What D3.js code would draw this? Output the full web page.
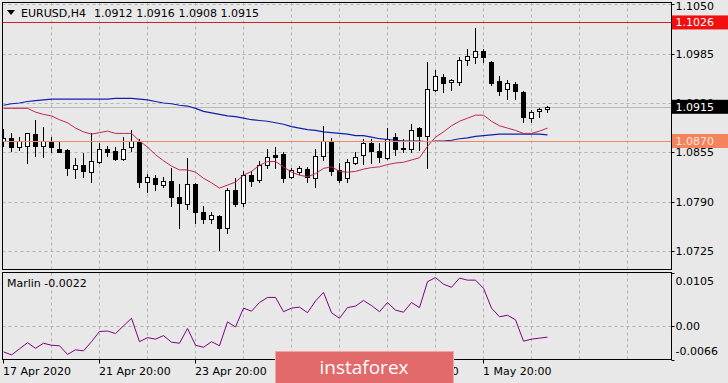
<!DOCTYPE html>
<html><head><meta charset="utf-8">
<script src="https://cdn.jsdelivr.net/npm/d3@7"></script>
<style>
html,body{margin:0;padding:0;background:#e8e8e8;}
svg{display:block;}
text{font-family:"DejaVu Sans",Verdana,sans-serif;font-size:11px;fill:#000;}
</style></head><body>
<svg id="c" width="728" height="383"></svg>
<script>
// ---- data ----
const symbolTitle = "EURUSD,H4";
const timeLabels = ["17 Apr 2020","21 Apr 20:00","23 Apr 20:00","27 Apr 20:00","29 Apr 20:00","1 May 20:00"];
const timeLabelBars = [0,12,24,36,48,60];
const open  = [1.0870,1.0874,1.0862,1.0863,1.0879,1.0863,1.0870,1.0860,1.0858,1.0833,1.0838,1.0829,1.0843,1.0859,1.0857,1.0846,1.0862,1.0869,1.0816,1.0821,1.0812,1.0818,1.0796,1.0787,1.0813,1.0777,1.0767,1.0771,1.0755,1.0806,1.0789,1.0825,1.0819,1.0839,1.0852,1.0853,1.0822,1.0829,1.0833,1.0821,1.0850,1.0870,1.0832,1.0821,1.0841,1.0852,1.0868,1.0857,1.0847,1.0875,1.0860,1.0859,1.0887,1.0877,1.0937,1.0954,1.0947,1.0948,1.0977,1.0980,1.0988,1.0974,1.0949,1.0938,1.0945,1.0934,1.0900,1.0909,1.0912];
const high  = [1.0886,1.0880,1.0875,1.0881,1.0898,1.0889,1.0875,1.0870,1.0860,1.0847,1.0854,1.0880,1.0868,1.0863,1.0862,1.0875,1.0885,1.0872,1.0827,1.0825,1.0822,1.0834,1.0813,1.0847,1.0815,1.0784,1.0776,1.0773,1.0808,1.0821,1.0831,1.0830,1.0844,1.0859,1.0862,1.0855,1.0834,1.0837,1.0836,1.0859,1.0890,1.0874,1.0841,1.0846,1.0855,1.0872,1.0872,1.0868,1.0887,1.0881,1.0872,1.0892,1.0888,1.0974,1.0963,1.0958,1.0951,1.0980,1.0991,1.1019,1.0991,1.0975,1.0955,1.0950,1.0947,1.0936,1.0911,1.0913,1.0916];
const low   = [1.0863,1.0857,1.0858,1.0841,1.0850,1.0849,1.0855,1.0855,1.0825,1.0821,1.0822,1.0816,1.0841,1.0850,1.0845,1.0845,1.0857,1.0810,1.0803,1.0805,1.0809,1.0784,1.0756,1.0781,1.0762,1.0762,1.0762,1.0727,1.0749,1.0784,1.0784,1.0811,1.0816,1.0834,1.0834,1.0816,1.0821,1.0827,1.0816,1.0810,1.0845,1.0825,1.0816,1.0816,1.0840,1.0840,1.0841,1.0843,1.0846,1.0852,1.0855,1.0855,1.0858,1.0834,1.0936,1.0935,1.0937,1.0944,1.0970,1.0972,1.0974,1.0944,1.0930,1.0925,1.0925,1.0895,1.0895,1.0902,1.0908];
const close = [1.0874,1.0862,1.0870,1.0880,1.0863,1.0870,1.0862,1.0856,1.0834,1.0838,1.0830,1.0844,1.0859,1.0855,1.0846,1.0860,1.0870,1.0816,1.0822,1.0813,1.0817,1.0796,1.0789,1.0814,1.0776,1.0767,1.0773,1.0756,1.0805,1.0787,1.0825,1.0818,1.0838,1.0849,1.0849,1.0821,1.0832,1.0834,1.0822,1.0850,1.0870,1.0831,1.0819,1.0843,1.0849,1.0868,1.0857,1.0849,1.0872,1.0859,1.0861,1.0885,1.0876,1.0938,1.0956,1.0946,1.0950,1.0976,1.0982,1.0988,1.0980,1.0946,1.0936,1.0946,1.0936,1.0902,1.0908,1.0912,1.0915];
const maFast = [1.0913,1.0913,1.0913,1.0913,1.0908,1.0905,1.0903,1.0898,1.0894,1.0887,1.0882,1.0879,1.0881,1.0883,1.0880,1.0880,1.0880,1.0870,1.0862,1.0852,1.0844,1.0837,1.0832,1.0832,1.0829,1.0821,1.0815,1.0808,1.0812,1.0816,1.0825,1.0830,1.0838,1.0843,1.0843,1.0836,1.0829,1.0825,1.0823,1.0827,1.0834,1.0836,1.0830,1.0829,1.0830,1.0833,1.0835,1.0836,1.0839,1.0841,1.0842,1.0845,1.0848,1.0863,1.0875,1.0882,1.0890,1.0896,1.0900,1.0904,1.0904,1.0896,1.0890,1.0887,1.0884,1.0880,1.0880,1.0883,1.0887];
const maSlow = [1.0917,1.0919,1.0920,1.0922,1.0923,1.0924,1.0925,1.0925,1.0925,1.0925,1.0925,1.0925,1.0925,1.0925,1.0926,1.0926,1.0926,1.0925,1.0924,1.0922,1.0920,1.0919,1.0917,1.0916,1.0913,1.0909,1.0907,1.0905,1.0903,1.0902,1.0900,1.0898,1.0897,1.0896,1.0894,1.0892,1.0889,1.0887,1.0885,1.0884,1.0882,1.0881,1.0880,1.0879,1.0877,1.0877,1.0875,1.0873,1.0872,1.0871,1.0870,1.0870,1.0870,1.0869,1.0870,1.0870,1.0871,1.0873,1.0874,1.0876,1.0877,1.0878,1.0879,1.0879,1.0879,1.0879,1.0879,1.0879,1.0878];
const marlin = [-0.0051,-0.0057,-0.0045,-0.0033,-0.0044,-0.0034,-0.0038,-0.0039,-0.0056,-0.0047,-0.0049,-0.0031,-0.0011,-0.0010,-0.0015,0.0000,0.0015,-0.0031,-0.0023,-0.0026,-0.0019,-0.0032,-0.0034,-0.0005,-0.0038,-0.0042,-0.0031,-0.0039,0.0008,-0.0002,0.0035,0.0029,0.0046,0.0056,0.0056,0.0028,0.0035,0.0037,0.0026,0.0049,0.0066,0.0026,0.0015,0.0036,0.0039,0.0050,0.0040,0.0028,0.0046,0.0031,0.0027,0.0046,0.0036,0.0087,0.0095,0.0082,0.0076,0.0094,0.0090,0.0090,0.0074,0.0035,0.0018,0.0021,0.0012,-0.0030,-0.0026,-0.0024,-0.0022];
const priceTicks = [1.1050,1.0985,1.0920,1.0855,1.0790,1.0725];
const marlinTicks = [0.0105,0.0,-0.0066];
const marlinTickLabels = ["0.0105","0.00","-0.0066"];
const resistanceLevel = 1.1026;
const supportLevel = 1.0870;
const bidPrice = 1.0915;

// ---- layout ----
const svg = d3.select("#c");
const L = 2.5, R = 671.5, mainTop = 2.5, mainBot = 269.5, indTop = 272.5, indBot = 359.5;
const x = d3.scaleLinear().domain([0,1]).range([3,11]);
const y = d3.scaleLinear().domain([1.0725,1.1050]).range([251.2,4.2]);
const yM = d3.scaleLinear().domain([-0.0066,0.0105]).range([indBot,indTop]);
const px = v => Math.round(v) + 0.5;
const N = close.length;
const fmt4 = v => (v < 0 ? "-" : "") + Math.abs(v).toFixed(4);

const defs = svg.append("defs");
defs.append("clipPath").attr("id","cm").append("rect").attr("x",L).attr("y",mainTop).attr("width",R-L).attr("height",mainBot-mainTop);
defs.append("clipPath").attr("id","ci").append("rect").attr("x",L).attr("y",indTop).attr("width",R-L).attr("height",indBot-indTop);

const gridColor = "#b2b2b2";
const gridBars = d3.range(6, 84, 6);

// main panel
const gm = svg.append("g").attr("clip-path","url(#cm)");
gm.selectAll("line.vg").data(gridBars).join("line")
  .attr("x1",d=>x(d)+0.5).attr("x2",d=>x(d)+0.5).attr("y1",mainTop).attr("y2",mainBot)
  .attr("stroke",gridColor).attr("stroke-dasharray","3,3");
gm.selectAll("line.hg").data(priceTicks).join("line")
  .attr("x1",L).attr("x2",R).attr("y1",d=>px(y(d))).attr("y2",d=>px(y(d)))
  .attr("stroke",gridColor).attr("stroke-dasharray","3,3");
// bid line
gm.append("line").attr("x1",L).attr("x2",R).attr("y1",px(y(bidPrice))).attr("y2",px(y(bidPrice)))
  .attr("stroke","#b8b8b8");

// candles
const idx = d3.range(N);
gm.selectAll("line.wick").data(idx).join("line")
  .attr("x1",i=>x(i)+0.5).attr("x2",i=>x(i)+0.5)
  .attr("y1",i=>Math.round(y(high[i]))).attr("y2",i=>Math.round(y(low[i]))+1)
  .attr("stroke","#000");
gm.selectAll("rect.body").data(idx).join("rect")
  .attr("x",i=>x(i)-1.5).attr("width",4)
  .attr("y",i=>px(y(Math.max(open[i],close[i]))))
  .attr("height",i=>Math.max(1, Math.round(y(Math.min(open[i],close[i]))) - Math.round(y(Math.max(open[i],close[i])))))
  .attr("fill",i=>close[i]>=open[i]?"#fff":"#000").attr("stroke","#000");

// moving averages
const lineGen = arr => d3.line().x((d,i)=>x(i)+0.5).y(d=>y(d))(arr);
gm.append("path").attr("d",lineGen(maSlow)).attr("fill","none").attr("stroke","#1020a8").attr("stroke-width",1.2);
gm.append("path").attr("d",lineGen(maFast)).attr("fill","none").attr("stroke","#c0284c").attr("stroke-width",1);

// horizontal levels
gm.append("line").attr("x1",L).attr("x2",R).attr("y1",px(y(resistanceLevel))).attr("y2",px(y(resistanceLevel)))
  .attr("stroke","#cc2222");
gm.append("line").attr("x1",L).attr("x2",R).attr("y1",px(y(supportLevel))).attr("y2",px(y(supportLevel)))
  .attr("stroke","#f08a62");

// indicator panel
const gi = svg.append("g").attr("clip-path","url(#ci)");
gi.selectAll("line.vg").data(gridBars).join("line")
  .attr("x1",d=>x(d)+0.5).attr("x2",d=>x(d)+0.5).attr("y1",indTop).attr("y2",indBot)
  .attr("stroke",gridColor).attr("stroke-dasharray","3,3");
gi.append("line").attr("x1",L).attr("x2",R).attr("y1",px(yM(0))).attr("y2",px(yM(0)))
  .attr("stroke",gridColor).attr("stroke-dasharray","3,3");
gi.append("path").attr("d",d3.line().x((d,i)=>x(i)+0.5).y(d=>yM(d))(marlin))
  .attr("fill","none").attr("stroke","#800080").attr("stroke-width",1);

// frames
svg.append("rect").attr("x",L).attr("y",mainTop).attr("width",R-L).attr("height",mainBot-mainTop).attr("fill","none").attr("stroke","#000");
svg.append("rect").attr("x",L).attr("y",indTop).attr("width",R-L).attr("height",indBot-indTop).attr("fill","none").attr("stroke","#000");

// price axis
const ya = svg.append("g").attr("transform",`translate(${R},0)`)
  .call(d3.axisRight(y).tickValues(priceTicks).tickFormat(fmt4).tickSize(3).tickPadding(1));
ya.select(".domain").remove();
ya.selectAll(".tick line").attr("stroke","#000");
ya.selectAll("text").style("font-size","11px").style("font-family","DejaVu Sans");
ya.selectAll(".tick").attr("transform",d=>`translate(0,${px(y(d))})`);
// keep the top label inside the window
ya.selectAll(".tick text").attr("y",d=>Math.max(0, 6 - px(y(d))));

// marlin axis labels (clamped inside the panel like the terminal does)
const ma = svg.append("g");
marlinTicks.forEach((v,k)=>{
  const yy = Math.min(Math.max(yM(v), indTop+8.5), indBot-8);
  ma.append("line").attr("x1",R).attr("x2",R+3).attr("y1",px(yM(v))).attr("y2",px(yM(v))).attr("stroke","#000");
  ma.append("text").attr("x",R+4).attr("y",yy).attr("dy","0.35em").text(marlinTickLabels[k]);
});

// time axis
const xa = svg.append("g").attr("transform",`translate(0,${indBot})`)
  .call(d3.axisBottom(x).tickValues(timeLabelBars).tickFormat((d,k)=>timeLabels[k]).tickSize(4).tickPadding(4));
xa.select(".domain").remove();
xa.selectAll(".tick").attr("transform",d=>`translate(${x(d)+0.5},0)`);
xa.selectAll(".tick line").attr("stroke","#000");
xa.selectAll("text").attr("text-anchor","start").attr("x",-0.5).style("font-size","11px").style("font-family","DejaVu Sans");

// price labels
function priceTag(p, bg, fg){
  const yy = y(p);
  svg.append("rect").attr("x",R+0.5).attr("y",yy-7).attr("width",728-R).attr("height",14).attr("fill",bg);
  svg.append("text").attr("x",R+4).attr("y",yy).attr("dy","0.35em").style("fill",fg).text(fmt4(p));
}
priceTag(resistanceLevel,"#f20f0f","#ffffff");
priceTag(bidPrice,"#000000","#ffffff");
priceTag(supportLevel,"#f4845e","#ffe4d8");

// title
svg.append("path").attr("d","M7,10 L15,10 L11,15 Z").attr("fill","#000");
const t = svg.append("text").attr("x",21).attr("y",17);
t.append("tspan").text(symbolTitle);
[open[N-1],high[N-1],low[N-1],close[N-1]].forEach((v,k)=>{
  t.append("tspan").attr("x",94+k*42.2).text(fmt4(v));
});
svg.append("text").attr("x",7).attr("y",287).text("Marlin " + fmt4(marlin[N-1]));

// watermark
svg.append("rect").attr("x",275.5).attr("y",351.5).attr("width",178).attr("height",32)
  .attr("fill","#e36a6b").attr("stroke","#f1a5a5");
svg.append("text").attr("x",364).attr("y",374).attr("text-anchor","middle")
  .style("font-family","'Open Sans',sans-serif").style("font-size","19px").style("fill","#ffffff").text("instaforex");
</script>
</body></html>
